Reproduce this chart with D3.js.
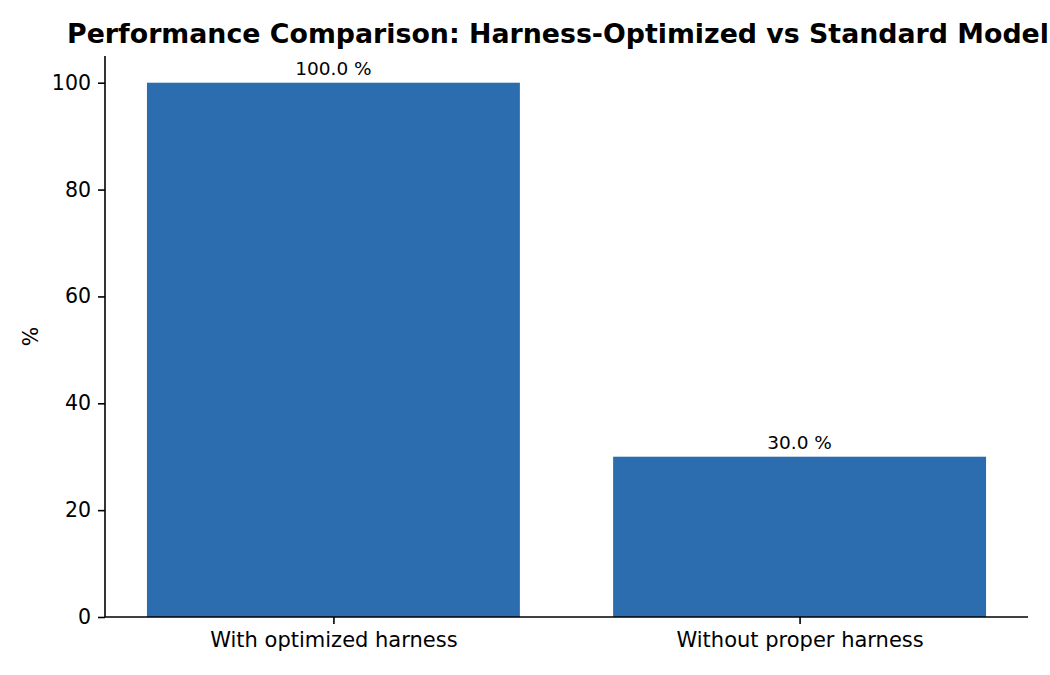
<!DOCTYPE html>
<html lang="en">
<head>
    <meta charset="UTF-8">
    <title>Performance Comparison</title>
    <script src="https://d3js.org/d3.v7.min.js"></script>
</head>
<style>
    html,body{
        margin:0px;
        padding:0px;
        background:#fff;
    }
    svg text{
        font-family:"DejaVu Sans",sans-serif;
        fill:#000;
    }
</style>
<body>
<div id="chart"></div>
<script>
    // data
    let categories=["With optimized harness","Without proper harness"]
    let values=[100.0,30.0]
    let yTicks=[0,20,40,60,80,100]

    let width=1050,height=675
    let mLeft=105,mRight=1028,mTop=56,mBottom=617

    let svg=d3.select("#chart")
        .append("svg")
        .attr("width",width)
        .attr("height",height)

    //x as index scale, same margins as the original bar plot
    let x=d3.scaleLinear().domain([-0.49,categories.length-1+0.49]).range([mLeft,mRight])
    let y=d3.scaleLinear().domain([0,105]).range([mBottom,mTop])
    let barW=x(0.8)-x(0)

    let g=svg.append("g")

    g.selectAll("rect.bar")
        .data(values)
        .enter()
        .append("rect")
        .attr("class","bar")
        .attr("x",(d,i)=>x(i)-barW/2)
        .attr("y",d=>y(d))
        .attr("width",barW)
        .attr("height",d=>y(0)-y(d))
        .attr("fill","#2c6db0")

    g.selectAll("text.val")
        .data(values)
        .enter()
        .append("text")
        .attr("class","val")
        .attr("x",(d,i)=>x(i))
        .attr("y",d=>y(d)-8)
        .attr("text-anchor","middle")
        .attr("font-size","18.5px")
        .text(d=>d.toFixed(1)+" %")

    //axes
    let yAxis=d3.axisLeft(y).tickValues(yTicks).tickSize(7).tickPadding(7)
    let ya=svg.append("g")
        .attr("transform","translate("+mLeft+",0)")
        .call(yAxis)
    ya.select(".domain").attr("d","M0,"+mBottom+"V"+mTop).attr("stroke","#000").attr("stroke-width",1.6)
    ya.selectAll(".tick line").attr("stroke","#000").attr("stroke-width",1.6)
    ya.selectAll(".tick text").attr("font-size","20.5px").style("font-family","DejaVu Sans")

    let xAxis=d3.axisBottom(x).tickValues(d3.range(categories.length)).tickFormat(i=>categories[i]).tickSize(7).tickPadding(8)
    let xa=svg.append("g")
        .attr("transform","translate(0,"+mBottom+")")
        .call(xAxis)
    xa.select(".domain").attr("d","M"+mLeft+",0H"+mRight).attr("stroke","#000").attr("stroke-width",1.6)
    xa.selectAll(".tick line").attr("stroke","#000").attr("stroke-width",1.6)
    xa.selectAll(".tick text").attr("font-size","21px").style("font-family","DejaVu Sans")

    svg.append("text")
        .attr("transform","translate(38,"+((mTop+mBottom)/2)+") rotate(-90)")
        .attr("text-anchor","middle")
        .attr("font-size","20.5px")
        .text("%")

    svg.append("text")
        .attr("x",558)
        .attr("y",43)
        .attr("text-anchor","middle")
        .attr("font-size","26.8px")
        .attr("font-weight","bold")
        .text("Performance Comparison: Harness-Optimized vs Standard Model")
</script>
</body>
</html>
